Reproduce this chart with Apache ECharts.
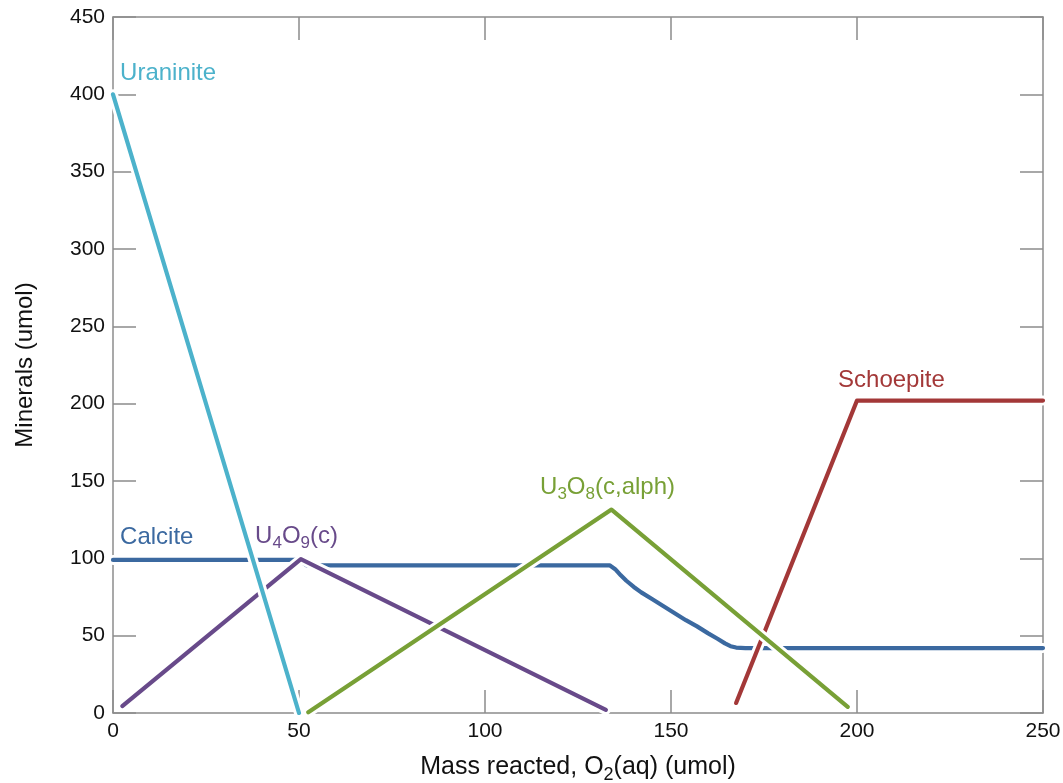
<!DOCTYPE html>
<html>
<head>
<meta charset="utf-8">
<script src="https://cdn.jsdelivr.net/npm/echarts@6/dist/echarts.min.js"></script>
<style>
  html, body { margin: 0; padding: 0; background: #fff; }
  #chart { width: 1063px; height: 783px; }
</style>
</head>
<body>
<div id="chart"></div>
<script>
// Mineral amounts (umol) versus O2(aq) reacted (umol)
const xTicks = [0, 50, 100, 150, 200, 250];
const yTicks = [0, 50, 100, 150, 200, 250, 300, 350, 400, 450];

const uraniniteX = [0, 50];
const uraniniteY = [400, 0];

const calciteX = [0, 50, 52, 133.5, 135, 136.5, 138, 140, 142, 145, 148, 151, 154, 157, 160, 162.5, 164.5, 166, 167.5, 170, 250];
const calciteY = [99, 99, 95.5, 95.5, 93, 89, 85.5, 81.5, 78, 73.5, 69, 64.5, 60, 56, 51.5, 48, 45, 43.2, 42.3, 42, 42];

const u4o9X = [2.5, 50.5, 132.5];
const u4o9Y = [4.5, 99.5, 2];

const u3o8X = [52.5, 134, 197.5];
const u3o8Y = [0.5, 131.5, 4];

const schoepiteX = [167.5, 200, 250];
const schoepiteY = [6.5, 202, 202];

const zip = (xs, ys) => xs.map((x, i) => [x, ys[i]]);

const minerals = [
  { name: 'Calcite',   x: calciteX,   y: calciteY,   color: '#3b69a0', text: 'Calcite',
    labelAt: [1.9, 113.8] },
  { name: 'Schoepite', x: schoepiteX, y: schoepiteY, color: '#a33838', text: 'Schoepite',
    labelAt: [194.9, 215] },
  { name: 'U4O9(c)',   x: u4o9X,      y: u4o9Y,      color: '#684a8a', text: 'U{sub|4}O{sub|9}(c)',
    labelAt: [38.2, 114.4] },
  { name: 'U3O8(c,alph)', x: u3o8X,   y: u3o8Y,      color: '#78a036', text: 'U{sub|3}O{sub|8}(c,alph)',
    labelAt: [114.8, 146] },
  { name: 'Uraninite', x: uraniniteX, y: uraniniteY, color: '#4cb2cb', text: 'Uraninite',
    labelAt: [1.9, 413.7] }
];

const FONT = 'Liberation Sans, Arial, sans-serif';
const frameColor = '#8c8c8c';

// each curve gets a white halo drawn underneath it so crossings stay readable
const series = [];
minerals.forEach(m => {
  const data = zip(m.x, m.y);
  series.push({
    name: m.name + ' halo', type: 'line', data, silent: true,
    symbol: 'none', animation: false,
    lineStyle: { color: '#ffffff', width: 10, cap: 'round', join: 'round' }
  });
  series.push({
    name: m.name, type: 'line', data,
    symbol: 'none', animation: false,
    lineStyle: { color: m.color, width: 4.2, cap: 'round', join: 'round' }
  });
});

const tickCommon = { show: true, inside: true, length: 23, lineStyle: { color: frameColor, width: 1.5 } };
const lineCommon = { show: true, onZero: false, lineStyle: { color: frameColor, width: 1.5 } };

const chart = echarts.init(document.getElementById('chart'), null, { renderer: 'canvas' });
chart.setOption({
  backgroundColor: '#ffffff',
  animation: false,
  grid: {
    left: 113, top: 17, width: 930, height: 696,
    containLabel: false, outerBoundsMode: 'none'
  },
  xAxis: [
    {
      type: 'value', min: xTicks[0], max: xTicks[xTicks.length - 1], interval: 50,
      position: 'bottom',
      axisLine: lineCommon, axisTick: tickCommon, splitLine: { show: false },
      axisLabel: { color: '#111', fontSize: 21, fontFamily: FONT, margin: 8 },
      name: 'Mass reacted, O{sub|2}(aq) (umol)',
      nameLocation: 'middle', nameGap: 37,
      nameTextStyle: {
        color: '#111', fontSize: 25, fontFamily: FONT,
        rich: { sub: { fontSize: 18, fontFamily: FONT, color: '#111', padding: [16, 0, 0, 0] } }
      }
    },
    {
      type: 'value', min: xTicks[0], max: xTicks[xTicks.length - 1], interval: 50,
      position: 'top',
      axisLine: lineCommon, axisTick: tickCommon, splitLine: { show: false },
      axisLabel: { show: false }
    }
  ],
  yAxis: [
    {
      type: 'value', min: yTicks[0], max: yTicks[yTicks.length - 1], interval: 50,
      position: 'left',
      axisLine: lineCommon, axisTick: tickCommon, splitLine: { show: false },
      axisLabel: { color: '#111', fontSize: 21, fontFamily: FONT, margin: 8 },
      name: 'Minerals (umol)',
      nameLocation: 'middle', nameGap: 76, nameRotate: 90,
      nameTextStyle: { color: '#111', fontSize: 24, fontFamily: FONT }
    },
    {
      type: 'value', min: yTicks[0], max: yTicks[yTicks.length - 1], interval: 50,
      position: 'right',
      axisLine: lineCommon, axisTick: tickCommon, splitLine: { show: false },
      axisLabel: { show: false }
    }
  ],
  series
});

// curve names written next to their curves
const graphics = minerals.map(m => {
  const p = chart.convertToPixel({ xAxisIndex: 0, yAxisIndex: 0 }, m.labelAt);
  return {
    type: 'text', x: p[0], y: p[1], z: 100, silent: true,
    style: {
      text: m.text, fill: m.color, fontSize: 24, fontFamily: FONT,
      align: 'left', verticalAlign: 'middle',
      rich: { sub: { fill: m.color, fontSize: 17, fontFamily: FONT, padding: [15, 0, 0, 0] } }
    }
  };
});
chart.setOption({ graphic: graphics });
</script>
</body>
</html>
